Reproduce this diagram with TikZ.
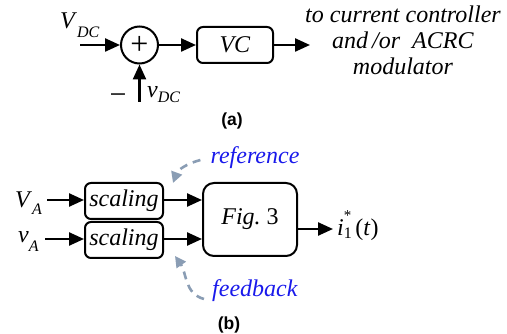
\documentclass[tikz,border=0pt]{standalone}
\usepackage{fontspec}
\setmainfont{Liberation Serif}
\newfontfamily\panelfont{Liberation Sans}
\usetikzlibrary{arrows.meta}
\definecolor{hintgray}{RGB}{138,157,180}
\definecolor{hintblue}{RGB}{25,25,235}
\newcommand\lowtext[2][6pt]{\raisebox{-#1}{\fontsize{16}{16}\selectfont\itshape #2}}

\begin{document}
\begin{tikzpicture}[x=1pt, y=-1pt, >=Stealth,
  font=\fontsize{24}{26}\selectfont,
  blk/.style={draw, line width=2pt, rounded corners=6pt, inner sep=0pt},
  sig/.style={-{Triangle[length=15pt,width=13pt]}, line width=2.4pt},
  hint/.style={-{Triangle[length=11pt,width=11pt]}, line width=2.6pt,
    dash pattern=on 8pt off 6pt, hintgray},
  lbl/.style={inner sep=0pt},
  panelcap/.style={inner sep=0pt, font=\panelfont\bfseries\fontsize{17.5}{17.5}\selectfont}]

\useasboundingbox (0,0) rectangle (507,334);

% =========================================================
% (a): DC voltage loop -- error summer and VC block
% =========================================================

\node[draw, circle, line width=2pt, minimum size=37pt, inner sep=0pt,
  font=\fontsize{32}{32}\selectfont] (sum) at (139.5,45) {+};
\node[blk, minimum width=76pt, minimum height=36pt] (vc) at (235,45) {\textit{VC}};

\coordinate (vin) at (80,45);
\coordinate (vfb) at (139.5,102);
\coordinate (vcout) at (310,45);

\node[lbl, anchor=base west] (vdcref) at (60,29) {\textit{V}\lowtext[9pt]{DC}};
\node[lbl, anchor=base west] (vdcmeas) at (147,98) {\textit{v}\lowtext[5pt]{DC}};
\node[lbl, font=\fontsize{30}{30}\selectfont] (minus) at (118,99) {−};

\draw[sig] (vin) -- (sum);
\draw[sig] (vfb) -- (sum);
\draw[sig] (sum) -- (vc);
\draw[sig] (vc) -- (vcout);

\node[lbl, anchor=north, align=center] (dest) at (403,6)
  {\textit{to current controller}\\ \textit{and\,/or\ \ ACRC}\\ \textit{modulator}};

\node[panelcap] (capa) at (232,121) {(a)};

% =========================================================
% (b): reference generation -- two scaling blocks into Fig. 3
% =========================================================

\node[blk, minimum width=78pt, minimum height=36pt] (scref) at (124,201) {\textit{scaling}};
\node[blk, minimum width=78pt, minimum height=36pt] (scfb) at (124,240) {\textit{scaling}};
\node[blk, rounded corners=11pt, minimum width=94pt, minimum height=73pt] (fig) at (250,219.5)
  {\textit{Fig.}\ 3};

\node[lbl, anchor=base west] (varef) at (15,208) {\textit{V}\lowtext[7pt]{A}};
\node[lbl, anchor=base west] (vameas) at (18,243) {\textit{v}\lowtext[9pt]{A}};

\coordinate (vain) at (47,200);
\coordinate (vmin) at (45,239);
\coordinate (iout) at (333,229);

\draw[sig] (vain) -- (vain -| scref.west);
\draw[sig] (vmin) -- (vmin -| scfb.west);
\draw[sig] (scref.east |- vain) -- (vain -| fig.west);
\draw[sig] (scfb.east |- vmin) -- (vmin -| fig.west);
\draw[sig] (fig.east |- iout) -- (iout);

\node[lbl, anchor=base west] (istar) at (337,236)
  {\textit{i}\rlap{\lowtext[3pt]{\upshape 1}}\raisebox{15pt}{\fontsize{15}{15}\selectfont *}\,(\textit{t})};

% hint arrows and their labels
\node[lbl, text=hintblue] (reflbl) at (255,158) {\textit{reference}};
\node[lbl, text=hintblue] (fblbl) at (255,291) {\textit{feedback}};

\coordinate (reftip) at (173,183);
\coordinate (fbtip) at (175,256);

\draw[hint] ([shift={(-10pt,-2pt)}]reflbl.west) to[out=195, in=70] (reftip);
\draw[hint] ([shift={(-8pt,-8pt)}]fblbl.west) to[out=165, in=-55] (fbtip);

\node[panelcap] (capb) at (229,325) {(b)};

\end{tikzpicture}
\end{document}
